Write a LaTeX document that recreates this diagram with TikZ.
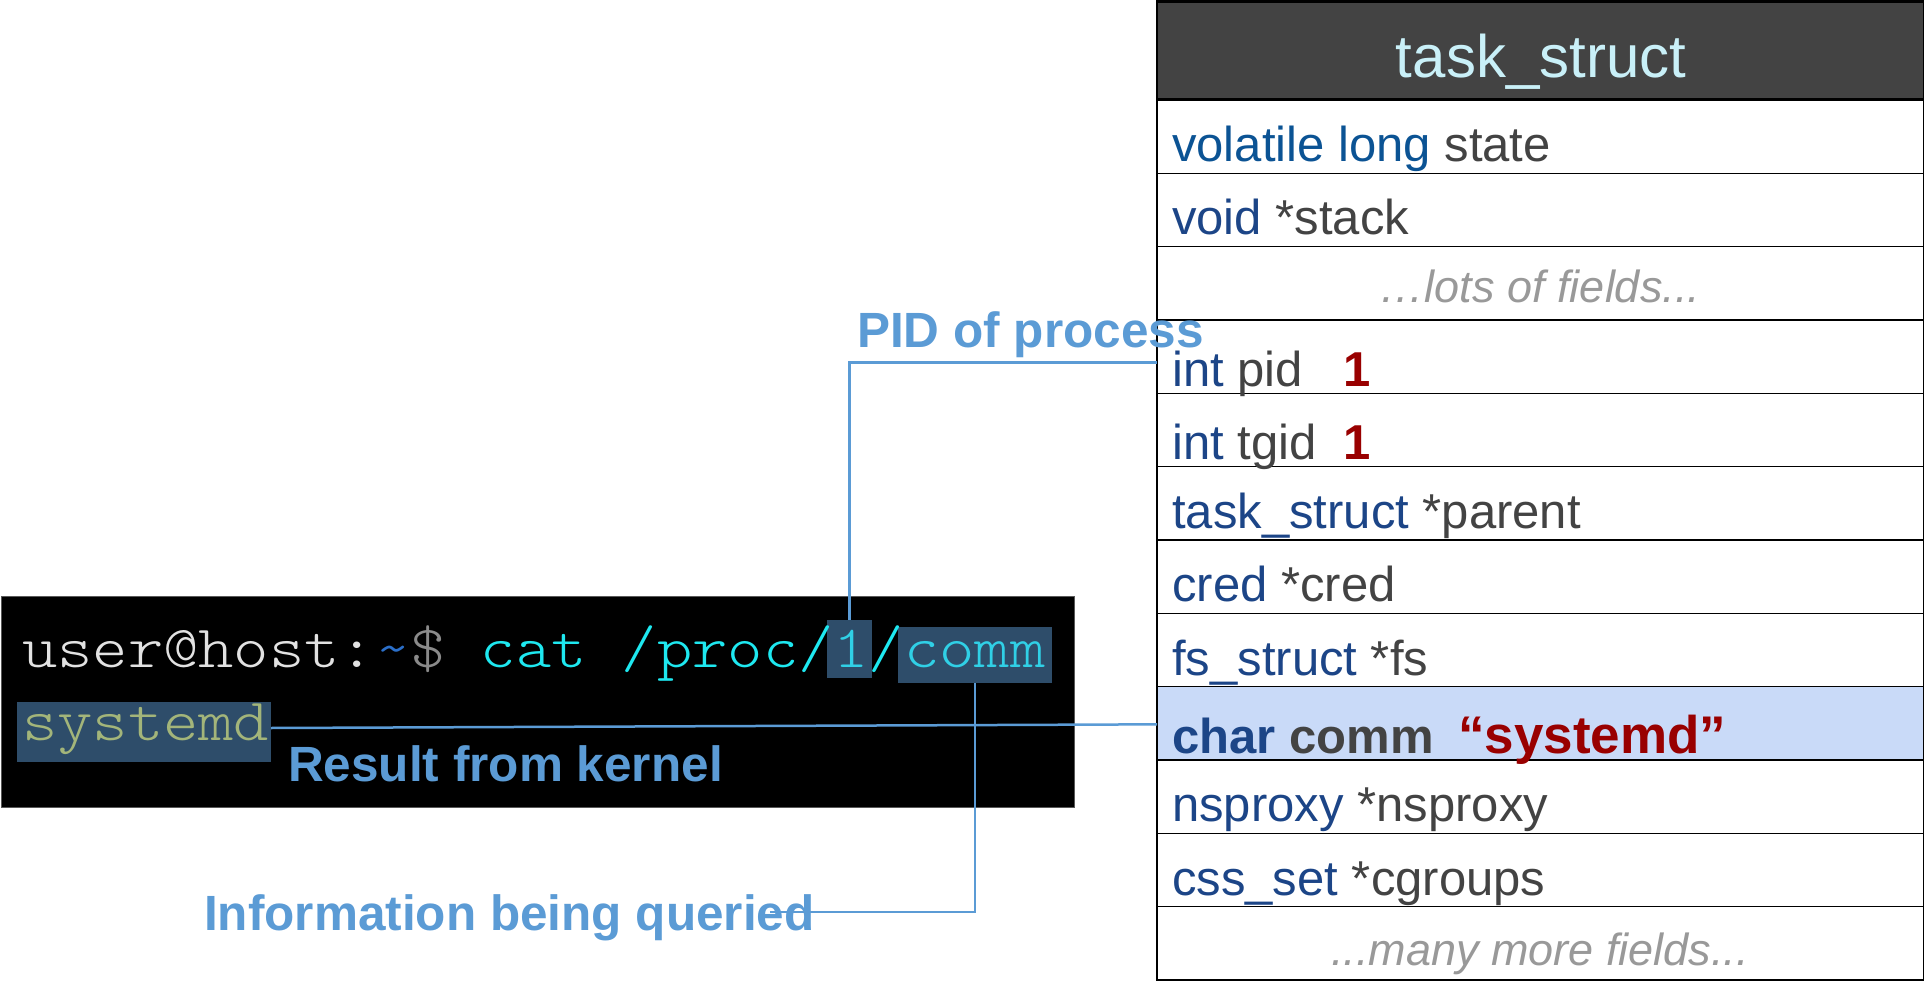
\documentclass[tikz,border=0pt]{standalone}
\usepackage{fontspec}
\setmainfont{Liberation Sans}
\setmonofont{Liberation Mono}
\newfontfamily\termfont{lmmonolt10-regular}[Extension=.otf, FakeStretch=1.12]
\definecolor{hdrbg}{HTML}{434343}
\definecolor{hdrtxt}{HTML}{C9F0F8}
\definecolor{tyblue}{HTML}{1C4587}
\definecolor{tyblue2}{HTML}{0B5394}
\definecolor{nmgray}{HTML}{434343}
\definecolor{valred}{HTML}{990000}
\definecolor{ellgray}{HTML}{999999}
\definecolor{hlrow}{HTML}{C9DAF8}
\definecolor{lbl}{HTML}{5B9BD5}
\definecolor{hlterm}{HTML}{2E4D6A}
\definecolor{tuser}{HTML}{E2E2E2}
\definecolor{ttilde}{HTML}{2B6FC9}
\definecolor{tdollar}{HTML}{8A8A8A}
\definecolor{tcyan}{HTML}{1EE8F0}
\definecolor{tcyan2}{HTML}{30D0E6}
\definecolor{tgreen}{HTML}{A3B57A}
\newcommand{\ty}[1]{\textcolor{tyblue}{#1}}
\newcommand{\nm}[1]{\textcolor{nmgray}{#1}}
\begin{document}
\begin{tikzpicture}[x=1pt,y=-1pt,
  row/.style={draw=black, line width=1.4pt, fill=white, minimum width=767pt,
    minimum height=73.33pt, anchor=north west, inner sep=0pt, outer sep=0pt},
  hdrbox/.style={draw=black, line width=2.5pt, fill=hdrbg, minimum width=767pt,
    minimum height=99pt, anchor=north west, inner sep=0pt, outer sep=0pt},
  fld/.style={anchor=base west, inner sep=0pt, font=\fontsize{49}{58}\selectfont},
  ell/.style={anchor=base, inner sep=0pt, text=ellgray, font=\fontsize{45}{54}\selectfont\itshape},
  val/.style={anchor=base west, inner sep=0pt, text=valred, font=\fontsize{49}{58}\selectfont\bfseries},
  term/.style={draw=gray!70!black, line width=1pt, fill=black, anchor=north west,
    minimum width=1073pt, minimum height=211pt, inner sep=0pt, outer sep=0pt},
  hl/.style={fill=hlterm, anchor=north west, inner sep=0pt, outer sep=0pt},
  ttxt/.style={anchor=base west, inner sep=0pt, font=\termfont\fontsize{60}{70}\selectfont},
  lab/.style={anchor=base west, inner sep=0pt, text=lbl, font=\fontsize{49.5}{58}\selectfont\bfseries},
  conn/.style={draw=lbl, line width=2.5pt}
]
\useasboundingbox (0,0) rectangle (1924,981);

% ---- task_struct table ----
\node[hdrbox] (hdr) at (1157,1.5) {};
\draw[line width=4pt, black] (hdr.south west) -- (hdr.south east);
\node[anchor=base, inner sep=0pt, text=hdrtxt, font=\fontsize{60}{70}\selectfont] (title) at (1541,78) {task\_struct};

\node[row] (r1) at (1157,100) {};
\node[row] (r2) at (1157,173.33) {};
\node[row] (r3) at (1157,246.67) {};
\node[row] (pidrow) at (1157,320) {};
\node[row] (tgidrow) at (1157,393.33) {};
\node[row] (r6) at (1157,466.67) {};
\node[row] (r7) at (1157,540) {};
\node[row] (r8) at (1157,613.33) {};
\node[row, fill=hlrow] (commrow) at (1157,686.67) {};
\node[row] (r10) at (1157,760) {};
\node[row] (r11) at (1157,833.33) {};
\node[row] (r12) at (1157,906.67) {};

\node[fld] (f1) at (1172,162) {\textcolor{tyblue2}{volatile long} \nm{state}};
\node[fld] (f2) at (1172,235) {\ty{void} \nm{*stack}};
\node[ell] (f3) at (1540,303) {…lots of fields...};
\node[fld] (f4) at (1172,386) {\ty{int} \nm{pid}};
\node[val] (v4) at (1343,386) {1};
\node[fld] (f5) at (1172,459) {\ty{int} \nm{tgid}};
\node[val] (v5) at (1343,459) {1};
\node[fld] (f6) at (1172,528) {\ty{task\_struct} \nm{*parent}};
\node[fld] (f7) at (1172,601) {\ty{cred} \nm{*cred}};
\node[fld] (f8) at (1172,675) {\ty{fs\_struct} \nm{*fs}};
\node[fld, font=\fontsize{49}{58}\selectfont\bfseries] (f9) at (1172,753) {\ty{char} \nm{comm}};
\node[val, font=\fontsize{53}{62}\selectfont\bfseries] (v9) at (1458,753) {“systemd”};
\node[fld] (f10) at (1172,821) {\ty{nsproxy} \nm{*nsproxy}};
\node[fld] (f11) at (1172,895) {\ty{css\_set} \nm{*cgroups}};
\node[ell] (f12) at (1540,965) {...many more fields...};

% ---- terminal ----
\node[term] (term) at (1,596) {};
\node[hl, minimum width=45pt, minimum height=58pt] (onebox) at (827,620) {};
\node[hl, minimum width=154pt, minimum height=56pt] (commbox) at (898,627) {};
\node[hl, minimum width=254pt, minimum height=60pt] (sysbox) at (17,702) {};
\node[ttxt] (prompt) at (22,667) {\textcolor{tuser}{user@host:}\textcolor{ttilde}{\textasciitilde}\textcolor{tdollar}{\$} \textcolor{tcyan}{cat /proc/}\textcolor{tcyan2}{1}\textcolor{tcyan}{/}\textcolor{tcyan2}{comm}};
\node[ttxt, text=tgreen] (sysout) at (22,740) {systemd};

% ---- connectors ----
\draw[conn] (onebox.north) |- ([yshift=-6pt]pidrow.west);
\draw[conn] ([yshift=4pt]sysbox.east) -- ([yshift=-1pt]commrow.west);
\coordinate (infoend) at (770,912);
\draw[conn] (commbox.south) |- (infoend);

% ---- labels ----
\node[lab] (pidlab) at (857,348) {PID of process};
\node[lab] (reslab) at (288,781) {Result from kernel};
\node[lab] (infolab) at (204,930) {Information being queried};
\end{tikzpicture}
\end{document}
